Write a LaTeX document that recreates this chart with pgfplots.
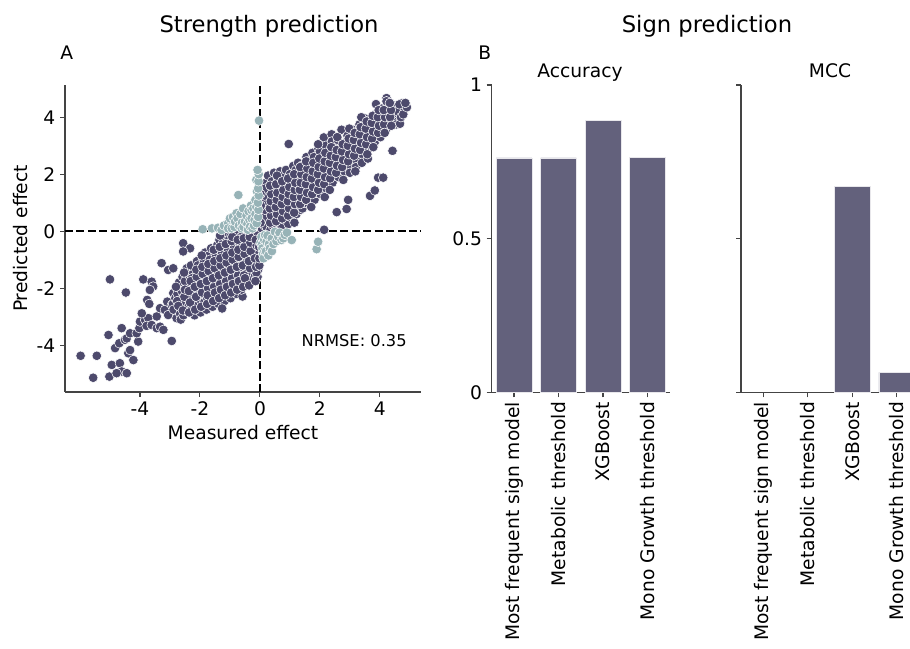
\documentclass[border=0pt]{standalone}
\usepackage{pgfplots}
\pgfplotsset{compat=1.18}
\usepackage{pgfplotstable}
\usepackage{fontspec}
\setmainfont{DejaVu Sans}
\definecolor{darkpt}{HTML}{4D4A6C}
\definecolor{lightpt}{HTML}{97B3B7}
\definecolor{barcol}{HTML}{63617C}
\definecolor{spine}{HTML}{444444}

\pgfplotstableread{
x y
-5.98 -4.37
-5.44 -4.37
-5.56 -5.14
-5.02 -5.10
-5.05 -3.64
-5.00 -1.69
-4.47 -2.15
-4.83 -4.10
-4.69 -3.93
-4.94 -4.69
-4.67 -4.63
-4.61 -4.92
-4.44 -4.98
-4.78 -4.98
-4.39 -4.28
-4.33 -4.17
-4.22 -4.52
-4.50 -3.81
-4.61 -3.40
-4.44 -3.76
-4.33 -3.58
-4.06 -3.87
-4.11 -3.58
-4.02 -3.40
-4.00 -3.17
-3.83 -3.11
-3.72 -3.05
-3.94 -2.88
-3.78 -3.32
-3.61 -3.29
-3.44 -3.40
-3.33 -3.35
-3.22 -3.46
-2.94 -3.85
-3.44 -2.99
-3.33 -2.70
-3.17 -2.76
-3.06 -2.94
-3.09 -2.47
-2.94 -2.59
-2.89 -2.17
-3.76 -2.41
-3.69 -2.55
-3.89 -1.69
-3.61 -1.77
-3.56 -1.94
-3.67 -2.06
-3.28 -1.12
-3.06 -1.36
-2.89 -1.30
-2.56 -0.42
-2.33 -0.60
-2.56 -0.71
-2.90 -2.55
-2.82 -2.35
-2.88 -2.75
-2.78 -3.05
-2.75 -2.20
-2.70 -1.80
-2.68 -2.65
-2.62 -2.40
-2.66 -2.90
-2.60 -2.10
-2.58 -1.60
-2.64 -3.10
-2.55 -2.95
-2.48 -2.50
-2.42 -2.25
-2.46 -2.80
-2.40 -1.95
-2.44 -1.30
-2.38 -2.65
-2.50 -1.75
-2.35 -1.55
-2.28 -2.40
-2.22 -2.15
-2.26 -2.70
-2.20 -1.85
-2.24 -1.50
-2.18 -2.95
-2.30 -1.20
-2.15 -2.55
-2.27 -1.65
-2.08 -2.30
-2.02 -2.05
-2.06 -2.60
-2.00 -1.75
-2.04 -1.40
-1.98 -2.85
-2.10 -1.05
-1.96 -2.45
-2.07 -1.20
-2.00 -2.20
-1.88 -2.20
-1.82 -1.95
-1.86 -2.50
-1.80 -1.65
-1.84 -1.35
-1.78 -2.75
-1.90 -0.95
-1.76 -2.35
-1.87 -1.10
-1.80 -2.05
-1.83 -0.75
-1.68 -2.10
-1.62 -1.85
-1.66 -2.40
-1.60 -1.55
-1.64 -1.25
-1.58 -2.65
-1.70 -0.85
-1.56 -2.25
-1.67 -1.00
-1.60 -1.95
-1.63 -0.60
-1.58 -1.40
-1.48 -2.00
-1.42 -1.75
-1.46 -2.30
-1.40 -1.45
-1.44 -1.15
-1.38 -2.55
-1.50 -0.75
-1.36 -2.15
-1.47 -0.90
-1.40 -1.85
-1.43 -0.50
-1.38 -1.30
-1.35 -0.30
-1.28 -1.90
-1.22 -1.65
-1.26 -2.20
-1.20 -1.35
-1.24 -1.05
-1.18 -2.45
-1.30 -0.65
-1.16 -2.05
-1.27 -0.80
-1.20 -1.75
-1.23 -0.40
-1.18 -1.20
-1.15 -0.20
-1.26 -2.71
-1.08 -1.80
-1.02 -1.55
-1.06 -2.10
-1.00 -1.25
-1.04 -0.95
-0.98 -2.35
-1.10 -0.55
-0.96 -1.95
-1.07 -0.70
-1.00 -1.65
-1.03 -0.30
-0.98 -1.10
-0.95 -0.12
-0.88 -1.70
-0.82 -1.45
-0.86 -2.00
-0.80 -1.15
-0.84 -0.85
-0.78 -2.20
-0.90 -0.45
-0.76 -1.85
-0.87 -0.60
-0.80 -1.55
-0.83 -0.25
-0.78 -1.00
-0.75 -0.10
-0.68 -1.60
-0.62 -1.35
-0.66 -1.90
-0.60 -1.05
-0.64 -0.75
-0.58 -2.29
-0.70 -0.40
-0.56 -1.75
-0.67 -0.55
-0.60 -1.45
-0.63 -0.20
-0.58 -0.90
-0.55 -0.08
-0.62 -2.05
-0.48 -1.50
-0.42 -1.25
-0.46 -1.85
-0.40 -0.95
-0.44 -0.70
-0.50 -0.35
-0.36 -1.65
-0.47 -0.50
-0.40 -1.40
-0.43 -0.15
-0.38 -0.85
-0.35 -0.05
-0.45 -1.10
-0.28 -1.45
-0.22 -1.20
-0.26 -1.70
-0.20 -0.90
-0.24 -0.65
-0.30 -0.30
-0.16 -1.55
-0.27 -0.45
-0.20 -1.35
-0.23 -0.12
-0.18 -0.80
-0.25 -1.05
-0.08 -1.60
-0.06 -1.35
-0.10 -1.10
-0.05 -0.85
-0.09 -0.60
-0.04 -0.35
-0.07 -0.15
-0.12 -1.45
-0.10 -0.75
-2.76 -2.45
-2.72 -2.62
-2.80 -1.95
-2.52 -2.30
-2.57 -2.78
-2.50 -2.05
-2.53 -1.45
-2.33 -2.50
-2.37 -2.10
-2.31 -1.75
-2.36 -2.85
-2.13 -2.30
-2.17 -1.95
-2.11 -1.60
-2.16 -2.75
-2.12 -1.35
-1.93 -2.15
-1.97 -1.85
-1.91 -1.50
-1.96 -2.65
-1.92 -1.25
-1.94 -0.85
-1.73 -2.00
-1.77 -1.75
-1.71 -1.40
-1.76 -2.55
-1.72 -1.15
-1.74 -2.25
-1.53 -1.95
-1.57 -1.65
-1.51 -1.30
-1.56 -2.45
-1.52 -1.05
-1.54 -0.65
-1.50 -2.15
-1.33 -1.85
-1.37 -1.55
-1.31 -1.20
-1.36 -2.35
-1.32 -0.95
-1.34 -0.55
-1.30 -2.05
-1.33 -0.15
-1.13 -1.75
-1.17 -1.45
-1.11 -1.10
-1.16 -2.25
-1.12 -0.85
-1.14 -0.45
-1.10 -1.95
-0.93 -1.65
-0.97 -1.35
-0.91 -1.00
-0.96 -2.15
-0.92 -0.75
-0.94 -0.35
-0.90 -1.85
-0.92 -0.20
-0.73 -1.55
-0.77 -1.25
-0.71 -0.90
-0.76 -2.05
-0.72 -0.65
-0.74 -0.30
-0.70 -1.75
-0.53 -1.55
-0.57 -1.20
-0.51 -0.80
-0.56 -1.95
-0.52 -0.55
-0.54 -0.25
-0.50 -1.65
-0.33 -1.30
-0.37 -1.05
-0.31 -0.70
-0.36 -1.90
-0.32 -0.40
-0.34 -0.20
-0.13 -1.25
-0.17 -0.95
-0.11 -0.50
-0.15 -1.75
-0.14 -0.30
-0.02 -1.20
-0.03 -0.55
-0.02 -0.95
0.06 0.10
0.08 0.35
0.05 0.60
0.10 0.85
0.07 1.10
0.12 1.35
0.09 1.55
0.15 0.20
0.22 0.15
0.28 0.40
0.24 0.65
0.30 0.90
0.26 1.15
0.32 1.40
0.20 1.70
0.35 0.05
0.27 1.95
0.42 0.20
0.48 0.45
0.44 0.70
0.50 0.95
0.46 1.20
0.52 1.45
0.40 1.75
0.55 0.10
0.47 2.05
0.62 0.30
0.68 0.55
0.64 0.80
0.70 1.05
0.66 1.30
0.72 1.55
0.60 1.85
0.75 0.15
0.67 2.10
0.82 0.40
0.88 0.65
0.84 0.90
0.90 1.15
0.86 1.40
0.92 1.65
0.80 1.95
0.95 0.25
0.87 2.15
1.02 0.50
1.08 0.75
1.04 1.00
1.10 1.25
1.06 1.50
1.12 1.75
1.00 2.00
1.11 2.29
0.96 3.06
1.15 0.30
1.22 0.60
1.28 0.90
1.24 1.15
1.30 1.40
1.26 1.65
1.32 1.90
1.20 2.15
1.35 0.75
1.27 2.40
1.42 0.80
1.48 1.05
1.44 1.30
1.50 1.55
1.46 1.80
1.52 2.05
1.40 2.30
1.55 2.60
1.47 1.00
1.62 0.95
1.68 1.20
1.64 1.45
1.70 1.70
1.66 1.95
1.72 2.20
1.60 2.45
1.75 2.75
1.82 1.10
1.88 1.35
1.84 1.60
1.90 1.85
1.86 2.10
1.92 2.35
1.80 2.60
1.95 2.90
2.02 1.30
2.08 1.55
2.04 1.80
2.10 2.05
2.06 2.30
2.12 2.55
2.00 2.80
2.13 3.29
2.14 0.05
2.22 1.50
2.28 1.75
2.24 2.00
2.30 2.25
2.26 2.50
2.32 2.75
2.20 3.00
2.39 3.40
2.42 1.70
2.48 1.95
2.44 2.20
2.50 2.45
2.46 2.70
2.52 2.95
2.40 3.15
2.56 0.67
2.62 1.90
2.68 2.15
2.64 2.40
2.70 2.65
2.66 2.90
2.72 3.56
2.60 3.20
2.82 2.10
2.88 2.35
2.84 2.60
2.90 2.85
2.86 3.10
2.92 3.35
2.89 0.78
2.94 1.10
3.02 2.30
3.08 2.55
3.04 2.80
3.10 3.05
3.06 3.30
3.12 3.55
3.00 2.05
3.22 2.50
3.28 2.75
3.24 3.00
3.30 3.25
3.26 3.50
3.32 3.75
3.20 2.25
3.42 2.70
3.48 2.95
3.44 3.20
3.50 3.45
3.46 3.70
3.52 3.95
3.40 2.40
3.62 2.90
3.68 3.15
3.64 3.40
3.70 3.65
3.66 3.90
3.67 1.24
3.60 2.55
3.82 3.10
3.88 3.35
3.84 3.60
3.90 3.85
3.86 4.10
3.83 1.43
3.87 4.46
3.94 1.88
4.02 3.30
4.08 3.55
4.04 3.80
4.10 4.05
4.06 4.30
4.11 1.88
4.22 3.60
4.28 3.85
4.24 4.10
4.30 4.35
4.22 4.67
4.22 4.56
4.42 2.82
4.45 3.90
4.52 4.15
4.48 4.40
4.55 3.75
4.67 3.77
4.60 4.20
4.74 4.49
4.83 4.29
4.70 4.00
4.78 4.10
4.65 4.45
0.14 0.50
0.17 0.75
0.13 1.00
0.16 1.25
0.18 1.50
0.02 0.30
0.03 0.90
0.02 1.30
0.34 0.30
0.37 0.55
0.33 0.80
0.36 1.05
0.38 1.30
0.34 1.60
0.54 0.35
0.57 0.60
0.53 0.85
0.56 1.10
0.58 1.35
0.54 1.65
0.57 1.95
0.74 0.45
0.77 0.70
0.73 0.95
0.76 1.20
0.78 1.45
0.74 1.75
0.94 0.55
0.97 0.80
0.93 1.05
0.96 1.30
0.98 1.55
0.94 1.85
1.14 0.65
1.17 0.95
1.13 1.20
1.16 1.45
1.18 1.70
1.14 2.00
1.34 0.95
1.37 1.20
1.33 1.45
1.36 1.70
1.38 2.00
1.34 2.25
1.54 1.10
1.57 1.35
1.53 1.65
1.56 1.90
1.58 2.20
1.54 2.45
1.74 1.30
1.77 1.55
1.73 1.85
1.76 2.10
1.78 2.40
1.71 0.85
1.94 1.45
1.97 1.70
1.93 2.00
1.96 2.25
1.98 2.55
1.94 3.05
2.14 1.65
2.17 1.90
2.13 2.20
2.16 2.45
2.18 2.75
2.16 1.20
2.34 1.85
2.37 2.10
2.33 2.40
2.36 2.65
2.38 2.95
2.33 1.45
2.54 2.05
2.57 2.30
2.53 2.60
2.56 2.85
2.58 3.30
2.74 2.25
2.77 2.50
2.73 2.80
2.76 3.05
2.78 1.80
2.94 2.45
2.97 2.70
2.93 3.00
2.96 3.25
2.98 3.60
3.14 2.65
3.17 2.90
3.13 3.20
3.16 3.45
3.18 2.10
3.34 2.85
3.37 3.10
3.33 3.40
3.36 3.65
3.38 4.00
3.54 3.05
3.57 3.30
3.53 3.60
3.56 3.85
3.58 2.70
3.74 3.25
3.77 3.50
3.73 3.80
3.76 4.05
3.78 2.95
3.94 3.45
3.97 3.70
3.93 4.00
3.96 4.25
4.14 3.75
4.17 4.00
4.13 4.25
4.16 3.45
4.34 4.00
4.37 4.25
4.33 4.50
4.38 3.70
4.90 4.35
4.85 4.50
}\darkdata

\pgfplotstableread{
x y
-1.91 0.07
-1.60 0.10
-1.40 0.12
-1.28 0.04
-1.20 0.20
-1.06 0.28
-1.06 0.10
-1.00 0.45
-0.94 0.10
-0.90 0.50
-0.85 0.15
-0.83 0.34
-0.78 0.63
-0.75 0.45
-0.72 1.27
-0.70 0.20
-0.65 0.60
-0.61 0.10
-0.60 0.30
-0.56 0.80
-0.55 0.15
-0.50 0.34
-0.45 0.55
-0.42 0.25
-0.40 0.05
-0.38 0.70
-0.35 0.40
-0.33 0.16
-0.30 0.90
-0.28 0.74
-0.28 0.45
-0.25 0.10
-0.22 0.80
-0.20 0.20
-0.18 0.40
-0.15 0.60
-0.15 1.10
-0.12 0.85
-0.11 0.28
-0.10 1.40
-0.12 1.80
-0.06 0.50
-0.05 0.75
-0.07 1.00
-0.04 1.25
-0.06 1.50
-0.05 1.75
-0.04 2.00
-0.08 2.15
-0.03 3.88
0.02 -0.40
0.05 -0.20
0.06 -0.48
0.08 -0.60
0.10 -0.80
0.12 -0.95
0.14 -0.30
0.15 -0.70
0.17 -0.13
0.20 -0.70
0.22 -0.37
0.25 -0.15
0.28 -0.85
0.30 -0.45
0.33 -0.60
0.39 -0.25
0.40 -0.70
0.45 -0.45
0.50 -0.02
0.55 -0.35
0.61 -0.19
0.65 -0.05
0.72 -0.31
0.78 -0.25
0.83 -0.13
0.90 -0.05
1.06 -0.31
1.89 -0.63
1.94 -0.37
}\lightdata

\begin{document}
\begin{tikzpicture}
\useasboundingbox (0,0) rectangle (682.5pt,486.75pt);
\pgfplotsset{
  every axis/.append style={
    scale only axis,
    axis line style={spine, line width=0.8pt, -},
    tick style={spine, line width=0.8pt},
    tick align=outside,
    major tick length=3.75pt,
    ticklabel style={font=\fontsize{14pt}{16pt}\selectfont, text=black},
    label style={font=\fontsize{14pt}{16pt}\selectfont},
  },
}
% ---------- scatter ----------
\begin{axis}[
  at={(48.75pt,192.75pt)}, anchor=south west,
  width=267pt, height=230.25pt,
  axis x line*=bottom, axis y line*=left,
  xmin=-6.5, xmax=5.37, ymin=-5.64, ymax=5.13,
  xtick={-4,-2,0,2,4}, xticklabels={-4,-2,0,2,4},
  ytick={-4,-2,0,2,4}, yticklabels={-4,-2,0,2,4},
  xlabel={Measured effect}, ylabel={Predicted effect},
]
\addplot[only marks, mark=*, mark size=3.6pt,
  mark options={fill=darkpt, draw=white, line width=0.4pt}] table[x=x,y=y] {\darkdata};
\addplot[only marks, mark=*, mark size=3.6pt,
  mark options={fill=lightpt, draw=white, line width=0.4pt}] table[x=x,y=y] {\lightdata};
\addplot[black, line width=1.3pt, dash pattern=on 6pt off 2.6pt] coordinates {(-6.5,0) (5.37,0)};
\addplot[black, line width=1.3pt, dash pattern=on 6pt off 2.6pt] coordinates {(0,-5.64) (0,5.13)};
\node[anchor=base east, inner sep=0pt, font=\fontsize{12.2pt}{14pt}\selectfont] at (axis cs:4.9,-4.05) {NRMSE: 0.35};
\end{axis}
% ---------- accuracy ----------
\begin{axis}[
  at={(368.8pt,192.5pt)}, anchor=south west,
  width=133.5pt, height=230.5pt,
  axis x line*=bottom, axis y line*=left,
  xmin=-0.5, xmax=3.5, ymin=0, ymax=1,
  xtick={0,1,2,3},
  xticklabels={Most frequent sign model,Metabolic threshold,XGBoost,Mono Growth threshold},
  xticklabel style={rotate=90, anchor=east},
  ytick={0,0.5,1}, yticklabels={0,0.5,1},
]
\addplot[ybar, bar width=0.8, bar shift=0pt, fill=barcol, draw=white!85!barcol, line width=0.4pt]
  coordinates {(0,0.763) (1,0.763) (2,0.886) (3,0.765)};
\end{axis}
% ---------- MCC ----------
\begin{axis}[
  at={(555.75pt,192.5pt)}, anchor=south west,
  width=133.5pt, height=230.5pt,
  axis x line*=bottom, axis y line*=left,
  xmin=-0.5, xmax=3.5, ymin=0, ymax=1,
  xtick={0,1,2,3},
  xticklabels={Most frequent sign model,Metabolic threshold,XGBoost,Mono Growth threshold},
  xticklabel style={rotate=90, anchor=east},
  ytick={0,0.5,1}, yticklabels={},
]
\addplot[ybar, bar width=0.8, bar shift=0pt, fill=barcol, draw=white!85!barcol, line width=0.4pt]
  coordinates {(2,0.671) (3,0.065)};
\end{axis}
% ---------- titles ----------
\node[anchor=base, inner sep=0pt, font=\fontsize{17pt}{20pt}\selectfont] at (201.75pt,462pt) {Strength prediction};
\node[anchor=base, inner sep=0pt, font=\fontsize{17pt}{20pt}\selectfont] at (530.25pt,462pt) {Sign prediction};
\node[anchor=base west, inner sep=0pt, font=\fontsize{14pt}{16pt}\selectfont] at (45pt,441.75pt) {A};
\node[anchor=base west, inner sep=0pt, font=\fontsize{14pt}{16pt}\selectfont] at (358.5pt,441.75pt) {B};
\node[anchor=base, inner sep=0pt, font=\fontsize{14pt}{16pt}\selectfont] at (435pt,428.25pt) {Accuracy};
\node[anchor=base, inner sep=0pt, font=\fontsize{14pt}{16pt}\selectfont] at (622.5pt,428.25pt) {MCC};
\end{tikzpicture}
\end{document}
